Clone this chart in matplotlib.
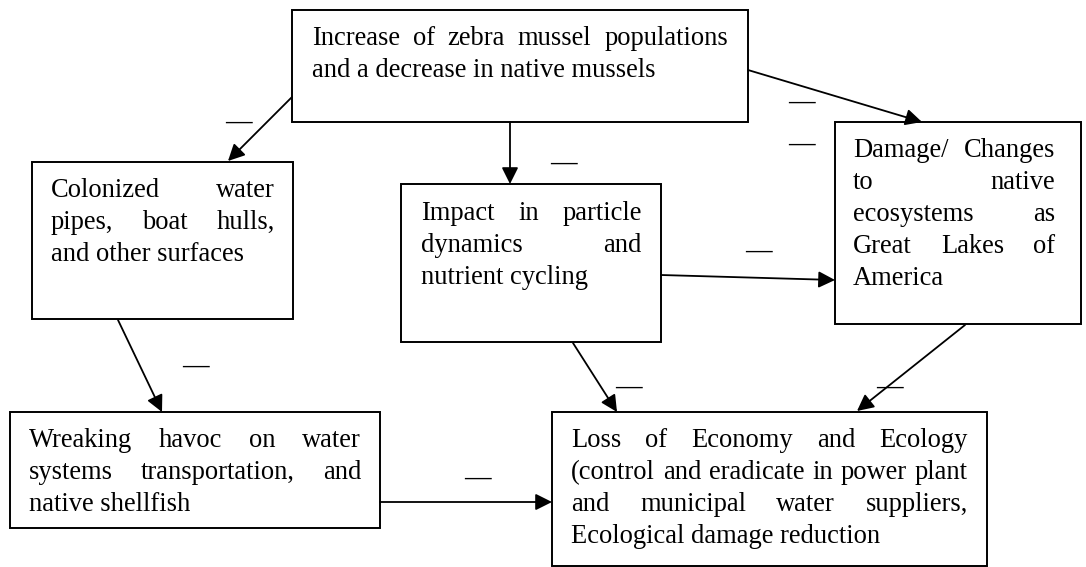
import matplotlib
matplotlib.use("Agg")
import matplotlib.pyplot as plt
from matplotlib.patches import Rectangle, FancyArrowPatch
from matplotlib.font_manager import FontProperties

W, H = 1086, 567
FS = 19.1
FAMILY = "Liberation Serif"

# Box texts (lines as in the reference)
text_A = ["Increase of zebra mussel populations", "and a decrease in native mussels"]
text_B = ["Colonized water", "pipes, boat hulls,", "and other surfaces"]
text_C = ["Impact in particle", "dynamics and", "nutrient cycling"]
text_D = ["Damage/ Changes", "to native", "ecosystems as", "Great Lakes of", "America"]
text_E = ["Wreaking havoc on water", "systems transportation, and", "native shellfish"]
text_F = ["Loss of Economy and Ecology",
          "(control and eradicate in power plant",
          "and municipal water suppliers,",
          "Ecological damage reduction"]
sign_label = "\u2014"

# layout: box rect (x0, y0, x1, y1) in pixels, text left/right, first baseline
boxes = [
    (text_A, (292, 10, 748, 122), (312, 728), 45),
    (text_B, (32, 162, 293, 319), (51, 275), 197),
    (text_C, (401, 184, 661, 342), (421, 642), 220),
    (text_D, (835, 122, 1081, 324), (853, 1055), 157),
    (text_E, (10, 412, 380, 528), (29, 361), 447),
    (text_F, (552, 412, 987, 566), (571, 968), 447),
]
LINE_STEP = 32

arrows = [
    ((292, 97), (228, 161)),
    ((510, 122), (510, 184)),
    ((748, 70), (922, 122)),
    ((661, 275), (835, 280)),
    ((118, 320), (162, 412)),
    ((380, 502), (552, 502)),
    ((573, 343), (617, 412)),
    ((965, 325), (857, 411)),
]

signs = [(238, 123), (801, 103), (801, 145), (563, 164), (758, 252),
         (195, 367), (477, 479), (628, 388), (889, 388)]

fig = plt.figure(figsize=(W / 100, H / 100), dpi=100)
ax = fig.add_axes([0, 0, 1, 1])
ax.set_xlim(0, W)
ax.set_ylim(H, 0)
ax.axis("off")

renderer = fig.canvas.get_renderer()
fp = FontProperties(family=FAMILY, size=FS)


def text_width(s):
    w, h, d = renderer.get_text_width_height_descent(s, fp, ismath=False)
    return w  # pixels == data units here


for lines, (x0, y0, x1, y1), (tl, tr), base in boxes:
    ax.add_patch(Rectangle((x0, y0), x1 - x0, y1 - y0, fill=False,
                           edgecolor="black", lw=1.4))
    for i, line in enumerate(lines):
        y = base + i * LINE_STEP
        words = line.split(" ")
        last = i == len(lines) - 1
        if last or len(words) == 1:
            ax.text(tl, y, line, fontproperties=fp, ha="left", va="baseline")
        else:
            widths = [text_width(w) for w in words]
            gap = (tr - tl - sum(widths)) / (len(words) - 1)
            x = tl
            for w, wd in zip(words, widths):
                ax.text(x, y, w, fontproperties=fp, ha="left", va="baseline")
                x += wd + gap

for (xa, ya), (xb, yb) in arrows:
    ax.add_patch(FancyArrowPatch((xa, ya), (xb, yb), arrowstyle="-|>",
                                 mutation_scale=25, lw=1.3, color="black",
                                 shrinkA=0, shrinkB=0))

for x, y in signs:
    ax.text(x, y + 6, sign_label, fontproperties=fp, ha="center",
            va="baseline", fontweight="bold")

fig.savefig("out.png", dpi=100)
